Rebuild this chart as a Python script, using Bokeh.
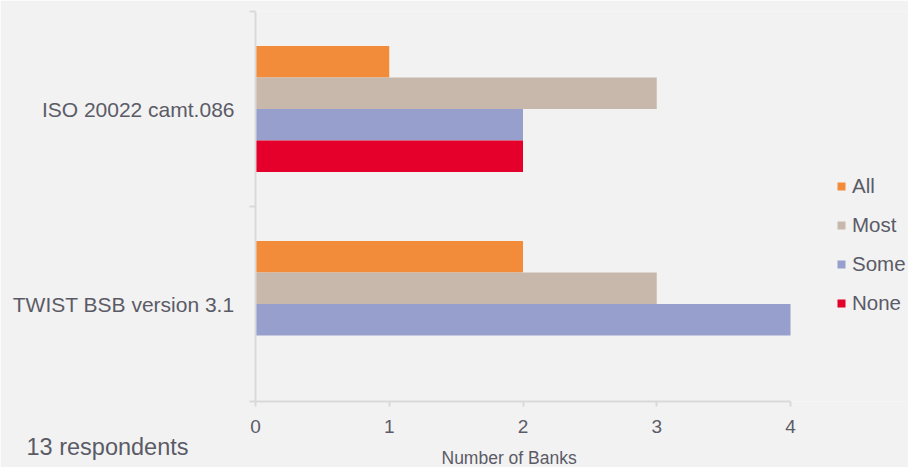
from bokeh.plotting import figure
from bokeh.models import Range1d, FixedTicker, Legend, LegendItem, ColumnDataSource, Title
from bokeh.embed import file_html
from bokeh.resources import INLINE

# ---- data ----
categories = ["TWIST BSB version 3.1", "ISO 20022 camt.086"]   # bottom -> top
series = ["All", "Most", "Some", "None"]
all_vals = [2, 1]
most_vals = [3, 3]
some_vals = [4, 2]
none_vals = [0, 2]
x_ticks = [0, 1, 2, 3, 4]
x_label = "Number of Banks"
note = "13 respondents"

colors = ["#f28c3a", "#c8b8ab", "#97a0cc", "#e4002b"]
TEXT = "#5b5b67"
AXIS = "#d9d9d9"
BG = "#f2f2f2"
FONT = "Liberation Sans"

values = [all_vals, most_vals, some_vals, none_vals]
bar_h = 0.1615

W, H = 908, 467
LEFT, AXIS_END, TOP, BOTTOM = 255, 790, 11, 66
x_max = x_ticks[-1]
x_end = x_max * (W - LEFT) / (AXIS_END - LEFT)   # frame extends to the right edge

p = figure(width=W, height=H, output_backend="svg", toolbar_location=None,
           x_range=Range1d(0, x_end), y_range=Range1d(0, len(categories)),
           min_border_left=LEFT, min_border_right=0, min_border_top=TOP, min_border_bottom=BOTTOM)
p.background_fill_color = BG
p.border_fill_color = BG
p.outline_line_color = None
p.xgrid.visible = False
p.ygrid.visible = False

items = []
for j, (name, vals, col) in enumerate(zip(series, values, colors)):
    off = (1.5 - j) * bar_h
    ys = [i + 0.5 + off for i in range(len(categories))]
    src = ColumnDataSource(dict(y=ys, right=vals))
    r = p.hbar(y="y", left=0, right="right", height=bar_h, source=src,
               fill_color=col, line_color=None)
    items.append(LegendItem(label=name, renderers=[r]))

# x axis
xa = p.xaxis[0]
xa.ticker = FixedTicker(ticks=x_ticks, minor_ticks=[])
xa.bounds = (0, x_max)
xa.axis_line_color = AXIS
xa.axis_line_width = 2
xa.major_tick_line_color = AXIS
xa.major_tick_line_width = 2
xa.major_tick_in = 0
xa.major_tick_out = 5
xa.minor_tick_line_color = None
xa.major_label_standoff = 13
xa.major_label_text_font = FONT
xa.major_label_text_font_size = "19px"
xa.major_label_text_color = TEXT

# y axis (categories at band centres, ticks at band boundaries)
ya = p.yaxis[0]
ya.ticker = FixedTicker(ticks=[i + 0.5 for i in range(len(categories))],
                        minor_ticks=list(range(len(categories) + 1)))
ya.major_label_overrides = {i + 0.5: c for i, c in enumerate(categories)}
ya.axis_line_color = AXIS
ya.axis_line_width = 2
ya.major_tick_line_color = None
ya.major_tick_in = 0
ya.major_tick_out = 0
ya.minor_tick_line_color = AXIS
ya.minor_tick_line_width = 2
ya.minor_tick_in = 0
ya.minor_tick_out = 6
ya.major_label_standoff = 15
ya.major_label_text_font = FONT
ya.major_label_text_font_size = "21px"
ya.major_label_text_color = TEXT

legend = Legend(items=items, location=(581, 86), orientation="vertical",
                glyph_width=10, glyph_height=10, label_height=24, spacing=15,
                label_standoff=6, padding=0, margin=0,
                border_line_color=None, background_fill_alpha=0,
                label_text_font=FONT, label_text_font_size="20.5px",
                label_text_color=TEXT)
p.add_layout(legend, "center")

t_note = Title(text=note, align="left", offset=26 - LEFT, standoff=-8,
               text_font=FONT, text_font_size="23.5px", text_font_style="normal",
               text_color=TEXT)
t_xlab = Title(text=x_label, align="left", offset=441 - LEFT, standoff=-20,
               text_font=FONT, text_font_size="17.5px", text_font_style="normal",
               text_color=TEXT)
p.add_layout(t_note, "below")
p.add_layout(t_xlab, "below")

open("out.html", "w").write(file_html(p, INLINE))
